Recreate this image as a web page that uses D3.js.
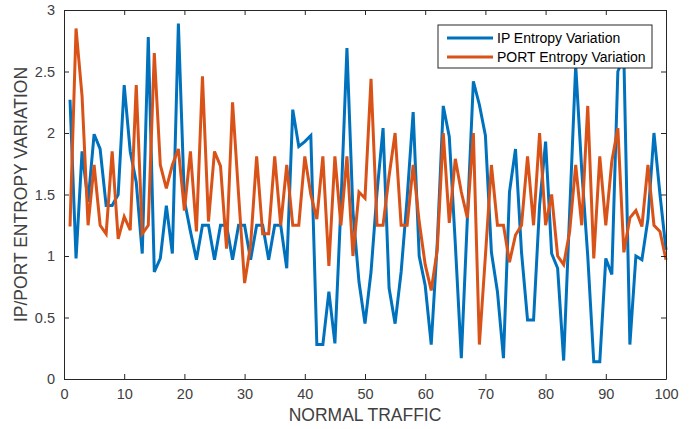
<!DOCTYPE html>
<html>
<head>
<meta charset="utf-8">
<script src="https://cdn.jsdelivr.net/npm/d3@7"></script>
<style>
  body { margin: 0; background: #fff; }
  svg { font-family: "Liberation Sans", Arial, sans-serif; }
</style>
</head>
<body>
<div id="chart"></div>
<script>
// IP entropy variation, samples 1..100
var ipEntropy = [2.27, 0.98, 1.85, 1.44, 1.99, 1.87, 1.41, 1.41, 1.50, 2.39,
  1.85, 1.60, 1.02, 2.78, 0.87, 0.98, 1.41, 1.02, 2.89, 1.45,
  1.20, 0.97, 1.25, 1.25, 0.97, 1.25, 1.25, 0.97, 1.25, 1.25,
  0.97, 1.25, 1.25, 0.97, 1.25, 1.25, 0.90, 2.19, 1.89, 1.93,
  1.98, 0.28, 0.28, 0.71, 0.29, 1.41, 2.69, 1.36, 0.79, 0.45,
  0.87, 1.52, 2.04, 0.74, 0.45, 0.87, 1.47, 2.17, 1.00, 0.76,
  0.28, 1.10, 2.22, 1.97, 1.10, 0.17, 1.30, 2.42, 2.23, 1.98,
  1.03, 0.71, 0.17, 1.52, 1.87, 1.03, 0.48, 0.48, 1.41, 1.93,
  1.02, 0.90, 0.15, 1.36, 2.55, 1.70, 1.00, 0.14, 0.14, 0.98,
  0.85, 2.50, 2.62, 0.28, 1.00, 0.97, 1.30, 2.00, 1.50, 1.05];

// PORT entropy variation, samples 1..100
var portEntropy = [1.24, 2.85, 2.30, 1.25, 1.74, 1.25, 1.18, 1.85, 1.14, 1.32,
  1.21, 2.39, 1.18, 1.25, 2.65, 1.74, 1.55, 1.74, 1.87, 1.37,
  1.85, 1.20, 2.46, 1.28, 1.85, 1.73, 1.06, 2.25, 1.50, 0.78,
  1.09, 1.81, 1.18, 1.18, 1.81, 1.25, 1.74, 1.25, 1.25, 1.81,
  1.50, 1.30, 1.81, 0.92, 1.81, 1.25, 1.81, 1.00, 1.52, 1.47,
  2.44, 1.25, 1.25, 1.65, 2.00, 1.25, 1.25, 1.74, 1.28, 0.93,
  0.72, 1.05, 2.00, 1.27, 1.79, 1.52, 1.31, 2.00, 0.28, 1.00,
  1.74, 1.25, 1.25, 0.95, 1.17, 1.25, 1.81, 1.25, 2.00, 1.25,
  1.50, 1.00, 0.93, 1.20, 1.74, 1.25, 2.22, 0.98, 1.81, 1.25,
  1.77, 2.04, 1.03, 1.31, 1.37, 1.24, 1.74, 1.25, 1.20, 0.97];

var xTicks = [0, 10, 20, 30, 40, 50, 60, 70, 80, 90, 100];
var yTicks = [0, 0.5, 1, 1.5, 2, 2.5, 3];
var seriesNames = ["IP Entropy Variation", "PORT Entropy Variation"];
var seriesColors = ["#0072BD", "#D95319"];

var W = 689, H = 429;
var margin = {top: 10, right: 23, bottom: 50, left: 64},
    width = W - margin.left - margin.right,
    height = H - margin.top - margin.bottom;

var svg = d3.select("#chart").append("svg")
    .attr("width", W)
    .attr("height", H);

var g = svg.append("g")
    .attr("transform", "translate(" + margin.left + "," + margin.top + ")");

var x = d3.scaleLinear().domain([0, 100]).range([0, width]);
var y = d3.scaleLinear().domain([0, 3]).range([height, 0]);

var axisColor = "#262626";
var labelColor = "#404040";

// lines
var series = [ipEntropy, portEntropy];
var line = d3.line()
    .x(function(d, i) { return x(i + 1); })
    .y(function(d) { return y(d); });

series.forEach(function(s, k) {
  g.append("path")
    .datum(s)
    .attr("fill", "none")
    .attr("stroke", seriesColors[k])
    .attr("stroke-width", 3)
    .attr("stroke-linejoin", "miter")
    .attr("d", line);
});

// axes (MATLAB style: ticks inside, box on)
var tl = 5;
var axBottom = g.append("g").attr("transform", "translate(0," + height + ")")
  .call(d3.axisBottom(x).tickValues(xTicks).tickSizeInner(-tl).tickSizeOuter(0).tickPadding(10));
var axTop = g.append("g")
  .call(d3.axisTop(x).tickValues(xTicks).tickSizeInner(-tl).tickSizeOuter(0).tickFormat(""));
var axLeft = g.append("g")
  .call(d3.axisLeft(y).tickValues(yTicks).tickSizeInner(-tl).tickSizeOuter(0).tickPadding(9).tickFormat(d3.format("")));
var axRight = g.append("g").attr("transform", "translate(" + width + ",0)")
  .call(d3.axisRight(y).tickValues(yTicks).tickSizeInner(-tl).tickSizeOuter(0).tickFormat(""));

[axBottom, axTop, axLeft, axRight].forEach(function(a) {
  a.selectAll("path").attr("stroke", axisColor).attr("stroke-width", 1);
  a.selectAll("line").attr("stroke", axisColor).attr("stroke-width", 1);
  a.selectAll("text").attr("fill", labelColor).style("font-size", "14.5px");
});

// axis titles
svg.append("text")
  .attr("x", margin.left + width / 2)
  .attr("y", 421)
  .attr("text-anchor", "middle")
  .attr("fill", labelColor)
  .style("font-size", "17.5px")
  .text("NORMAL TRAFFIC");

svg.append("text")
  .attr("transform", "translate(27," + (margin.top + height / 2) + ") rotate(-90)")
  .attr("text-anchor", "middle")
  .attr("fill", labelColor)
  .style("font-size", "17.5px")
  .text("IP/PORT ENTROPY VARIATION");

// legend
var legend = svg.append("g").attr("transform", "translate(438,25)");
legend.append("rect")
  .attr("width", 214).attr("height", 43)
  .attr("fill", "#fff")
  .attr("stroke", axisColor).attr("stroke-width", 1);

seriesNames.forEach(function(name, k) {
  var yy = 13 + k * 19;
  legend.append("line")
    .attr("x1", 9).attr("x2", 55)
    .attr("y1", yy).attr("y2", yy)
    .attr("stroke", seriesColors[k]).attr("stroke-width", 3);
  legend.append("text")
    .attr("x", 59).attr("y", yy + 4.5)
    .attr("fill", "#000")
    .style("font-size", "14px")
    .text(name);
});
</script>
</body>
</html>
